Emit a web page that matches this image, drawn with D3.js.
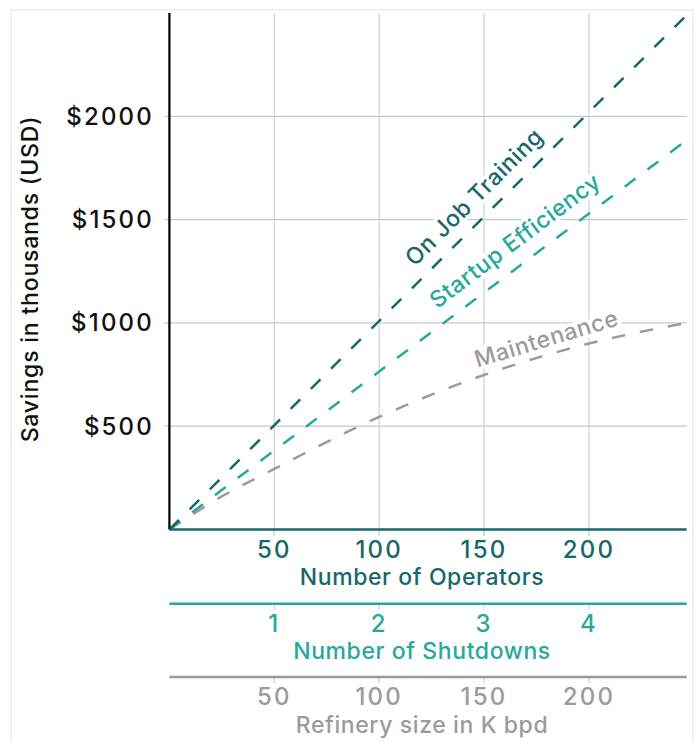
<!DOCTYPE html>
<html><head><meta charset="utf-8">
<script src="https://cdn.jsdelivr.net/npm/d3@7"></script>
<style>body{margin:0;background:#fff} text{font-family:Inter, Lato, sans-serif;font-weight:500}</style>
</head><body><svg id="c" width="699" height="742"></svg>
<script>
// ---- data ----
const xMax = 246.6;            // operators / K bpd at right edge
const yMax = 2500;
const yTicks = [500, 1000, 1500, 2000];
const yTickLabels = ["$500", "$1000", "$1500", "$2000"];
const operatorTicks = [50, 100, 150, 200];
const shutdownTicks = [1, 2, 3, 4];
const refineryTicks = [50, 100, 150, 200];
const seriesNames = ["On Job Training", "Startup Efficiency", "Maintenance"];
const ojtX = [0, 246.6];
const ojtY = [0, 2490];
const startupX = [0, 246.6];
const startupY = [0, 1885];
const maintX = [0, 25, 50, 100, 150, 200, 246.6];
const maintY = [0, 160, 293, 545, 748, 900, 1000];

// ---- styles ----
const C_DARK = "#16686a", C_TEAL = "#26a99b", C_GREY = "#9b9b9b";

const svg = d3.select("#c");
svg.append("rect").attr("x", 11).attr("y", 10).attr("width", 682).attr("height", 800)
  .attr("fill", "none").attr("stroke", "#ececec").attr("stroke-width", 1.5);

const L = 169.4, R = 686.7, T = 13, B = 529.5;
const x = d3.scaleLinear().domain([0, xMax]).range([L, R]);
const xs = d3.scaleLinear().domain([0, xMax / 50]).range([L, R]);
const y = d3.scaleLinear().domain([0, yMax]).range([B, T]);

// grid
const grid = svg.append("g");
grid.selectAll(".hg").data(yTicks).join("line")
  .attr("x1", L - 5).attr("x2", R).attr("y1", d => y(d)).attr("y2", d => y(d))
  .attr("stroke", "#c9c9c9").attr("stroke-width", 1.3);
grid.selectAll(".vg").data(operatorTicks).join("line")
  .attr("x1", d => x(d)).attr("x2", d => x(d)).attr("y1", T).attr("y2", B + 6)
  .attr("stroke", "#d4d4d4").attr("stroke-width", 1.3);

// y tick labels
svg.append("g").selectAll("text").data(yTicks).join("text")
  .attr("x", 154).attr("y", d => y(d)).attr("text-anchor", "end")
  .attr("dominant-baseline", "central").attr("font-size", 24).attr("letter-spacing", 2.2)
  .attr("fill", "#111").text((d, i) => yTickLabels[i]);

svg.append("text").attr("transform", "translate(30,279) rotate(-90)")
  .attr("text-anchor", "middle").attr("dominant-baseline", "central")
  .attr("font-size", 23).attr("letter-spacing", 0.8).attr("fill", "#111").text("Savings in thousands (USD)");

// series
const line = d3.line().x(d => x(d[0])).y(d => y(d[1]));
const lineCurve = d3.line().x(d => x(d[0])).y(d => y(d[1])).curve(d3.curveMonotoneX);
const series = [
  {name: seriesNames[2], pts: d3.zip(maintX, maintY), color: C_GREY, gen: lineCurve, lx: 182, off: 17},
  {name: seriesNames[1], pts: d3.zip(startupX, startupY), color: C_TEAL, gen: line, lx: 171.3, off: 23},
  {name: seriesNames[0], pts: d3.zip(ojtX, ojtY), color: C_DARK, gen: line, lx: 152.3, off: 21}
];
series.forEach(s => {
  svg.append("path").attr("d", s.gen(s.pts)).attr("fill", "none")
    .attr("stroke", s.color).attr("stroke-width", 2.5).attr("stroke-dasharray", "13.5,15");
});
series.forEach(s => {
  const xs_ = s.pts.map(p => p[0]), ys_ = s.pts.map(p => p[1]);
  const interp = v => {
    for (let i = 1; i < xs_.length; i++) if (v <= xs_[i]) {
      const t = (v - xs_[i-1]) / (xs_[i] - xs_[i-1]);
      return ys_[i-1] + t * (ys_[i] - ys_[i-1]);
    }
    return ys_[ys_.length - 1];
  };
  const px = x(s.lx), py = y(interp(s.lx));
  const p1x = x(s.lx - 8), p1y = y(interp(s.lx - 8)), p2x = x(s.lx + 8), p2y = y(interp(s.lx + 8));
  const ang = Math.atan2(p2y - p1y, p2x - p1x);
  const cx = px + s.off * Math.sin(ang), cy = py - s.off * Math.cos(ang);
  svg.append("text").attr("transform", `translate(${cx},${cy}) rotate(${ang * 180 / Math.PI})`)
    .attr("text-anchor", "middle").attr("dominant-baseline", "central")
    .attr("font-size", 23).attr("letter-spacing", 0.6).attr("fill", s.color)
    .attr("stroke", "#fff").attr("stroke-width", 7).attr("paint-order", "stroke")
    .text(s.name);
});

// y axis line
svg.append("line").attr("x1", L).attr("x2", L).attr("y1", T).attr("y2", B)
  .attr("stroke", "#000").attr("stroke-width", 2.2);

// bottom axes
function bottomAxis(yPos, scale, ticks, color, title) {
  const g = svg.append("g");
  g.selectAll(".tk").data(ticks).join("line")
    .attr("x1", d => scale(d)).attr("x2", d => scale(d)).attr("y1", yPos).attr("y2", yPos + 6)
    .attr("stroke", "#d4d4d4").attr("stroke-width", 1.3);
  g.append("line").attr("x1", L).attr("x2", R).attr("y1", yPos).attr("y2", yPos)
    .attr("stroke", color).attr("stroke-width", 2.5);
  g.selectAll(".lb").data(ticks).join("text")
    .attr("x", d => scale(d)).attr("y", yPos + 19.5).attr("text-anchor", "middle")
    .attr("dominant-baseline", "central").attr("font-size", 24).attr("letter-spacing", 2.2)
    .attr("fill", color).text(d => d);
  g.append("text").attr("x", 422).attr("y", yPos + 55.5).attr("text-anchor", "middle")
    .attr("font-size", 23).attr("letter-spacing", 0.6).attr("fill", color).text(title);
}
bottomAxis(B, x, operatorTicks, C_DARK, "Number of Operators");
bottomAxis(603.7, xs, shutdownTicks, C_TEAL, "Number of Shutdowns");
bottomAxis(677, x, refineryTicks, C_GREY, "Refinery size in K bpd");
</script></body></html>
